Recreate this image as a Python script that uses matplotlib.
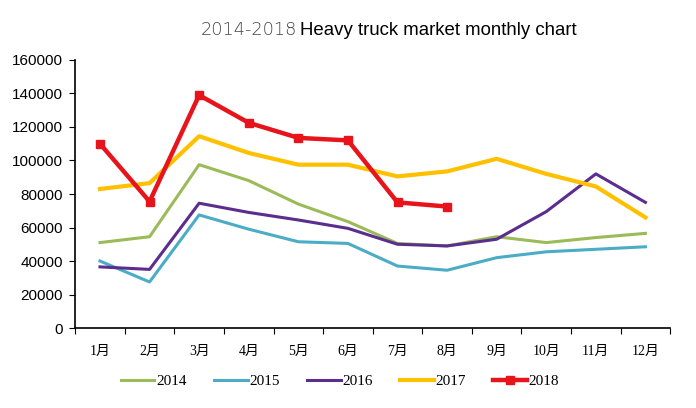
import matplotlib
matplotlib.use('Agg')
import matplotlib.pyplot as plt
import numpy as np

months = ['1月', '2月', '3月', '4月', '5月', '6月', '7月', '8月', '9月', '10月', '11月', '12月']
sales_2014 = [51000, 54500, 97500, 88000, 74000, 63500, 50500, 49000, 54500, 51000, 54000, 56500]
sales_2015 = [40000, 27500, 67500, 59000, 51500, 50500, 37000, 34500, 42000, 45500, 47000, 48500]
sales_2016 = [36500, 35000, 74500, 69000, 64500, 59500, 50000, 49000, 53000, 69500, 92000, 75000]
sales_2017 = [83000, 86500, 114500, 104500, 97500, 97500, 90500, 93500, 101000, 92000, 84500, 66000]
sales_2018 = [110000, 75500, 139000, 122500, 113500, 112000, 75000, 72500]

serif_cjk = ['Liberation Serif', 'Noto Sans CJK SC']

fig = plt.figure(figsize=(6.96, 4.08), dpi=100)
ax = fig.add_axes([0.108, 0.196, 0.855, 0.657])

x = np.arange(1, 13)
ax.plot(x, sales_2014, color='#9bbb59', lw=2.2, label='2014')
ax.plot(x, sales_2015, color='#4bacc6', lw=2.2, label='2015')
ax.plot(x, sales_2016, color='#5b2d8e', lw=2.2, label='2016')
ax.plot(x, sales_2017, color='#ffc000', lw=3.0, label='2017')
ax.plot(x[:len(sales_2018)], sales_2018, color='#e8141c', lw=3.2, marker='s',
        markersize=5.5, label='2018')

ax.set_ylim(0, 160000)
ax.set_xlim(0.5, 12.5)
ax.set_yticks(np.arange(0, 160001, 20000))
ax.tick_params(axis='y', labelsize=11, length=4, direction='out', pad=5)
for t in ax.get_yticklabels():
    t.set_family('Liberation Sans')

ax.set_xticks(np.arange(0.5, 12.6, 1))
ax.set_xticklabels([])
ax.tick_params(axis='x', which='major', length=4, direction='out')
ax.set_xticks(x, minor=True)
ax.set_xticklabels(months, minor=True)
ax.tick_params(axis='x', which='minor', length=0, pad=12, labelsize=10)
for t in ax.get_xticklabels(minor=True):
    t.set_family(serif_cjk)

for s in ['top', 'right']:
    ax.spines[s].set_visible(False)
for s in ['left', 'bottom']:
    ax.spines[s].set_linewidth(1.2)

leg = ax.legend(loc='center', bbox_to_anchor=(0.445, -0.2), ncol=5, frameon=False,
                handlelength=2.2, handletextpad=0.1, columnspacing=1.8,
                prop={'family': 'Liberation Serif', 'size': 11})

fig.text(0.427, 0.926, '2014-2018', ha='right', va='center', fontsize=12.8,
         family='DejaVu Sans', color='#444444', fontweight='light')
fig.text(0.431, 0.926, 'Heavy truck market monthly chart', ha='left', va='center',
         fontsize=13.4, family='Liberation Sans', color='black')

fig.savefig('out.png', dpi=100, facecolor='white')
